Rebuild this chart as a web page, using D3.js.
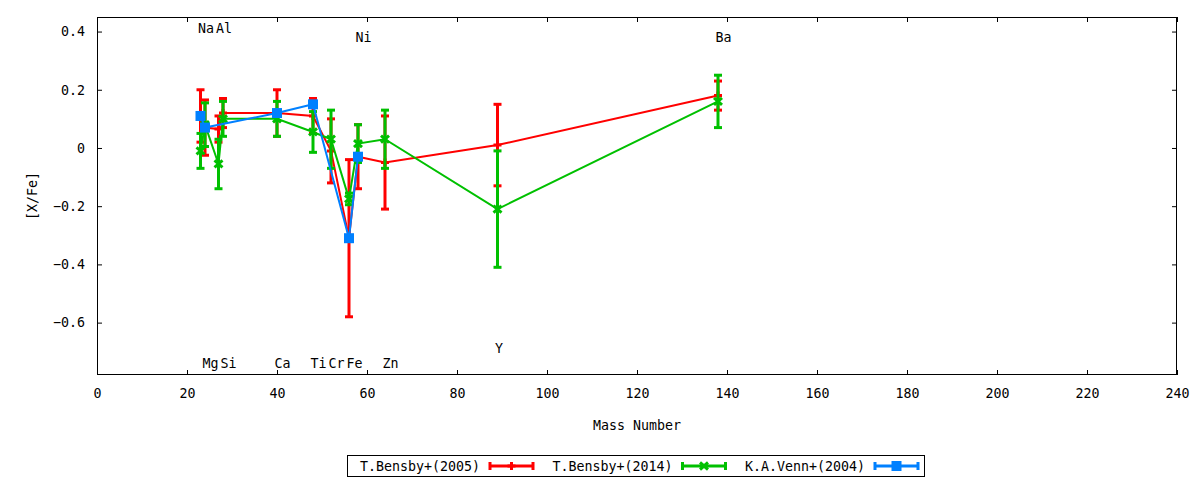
<!DOCTYPE html>
<html>
<head>
<meta charset="utf-8">
<script src="https://cdn.jsdelivr.net/npm/d3@7"></script>
<style>
  body { margin: 0; background: #fff; }
  text { font-family: "DejaVu Sans Mono", monospace; font-size: 13.3px; fill: #000; }
</style>
</head>
<body>
<div id="chart"></div>
<script>
// element mass numbers used as x
const elements = ["Na", "Mg", "Al", "Si", "Ca", "Ti", "Cr", "Fe", "Ni", "Zn", "Y", "Ba"];
const massNumbers = [23, 24, 27, 28, 40, 48, 52, 56, 58, 64, 89, 138];

// T.Bensby+(2005)
const bensby2005 = [0.11, 0.07, 0.065, 0.12, 0.12, 0.11, -0.01, -0.31, -0.03, -0.05, 0.01, 0.18];
const bensby2005Err = [0.09, 0.095, 0.045, 0.05, 0.08, 0.06, 0.11, 0.27, 0.11, 0.16, 0.14, 0.05];

// T.Bensby+(2014)
const bensby2014 = [-0.01, 0.08, -0.055, 0.10, 0.10, 0.055, 0.03, -0.175, 0.015, 0.03, -0.21, 0.16];
const bensby2014Err = [0.06, 0.075, 0.085, 0.06, 0.06, 0.07, 0.10, 0.02, 0.065, 0.10, 0.20, 0.09];

// K.A.Venn+(2004)
const vennElements = ["Na", "Mg", "Ca", "Ti", "Fe", "Ni"];
const venn2004 = [0.11, 0.07, 0.12, 0.15, -0.31, -0.03];
const venn2004Err = [0, 0, 0, 0, 0, 0];

// element labels placed in the plot
const labelText = ["Na", "Al", "Ni", "Ba", "Mg", "Si", "Ca", "Ti", "Cr", "Fe", "Zn", "Y"];
const labelY = [0.41, 0.41, 0.38, 0.38, -0.74, -0.74, -0.74, -0.74, -0.74, -0.74, -0.74, -0.69];

const xTicks = [0, 20, 40, 60, 80, 100, 120, 140, 160, 180, 200, 220, 240];
const yTicks = [-0.6, -0.4, -0.2, 0, 0.2, 0.4];

const legendNames = ["T.Bensby+(2005)", "T.Bensby+(2014)", "K.A.Venn+(2004)"];

const width = 1200, height = 480,
  margin = ({ top: 17, right: 23, bottom: 105, left: 97 });

const massOf = el => massNumbers[elements.indexOf(el)];

const series = [
  { name: legendNames[0], color: "#ff0000", marker: "plus",
    data: elements.map((e, i) => ({ m: massOf(e), v: bensby2005[i], err: bensby2005Err[i] })) },
  { name: legendNames[1], color: "#00c000", marker: "cross",
    data: elements.map((e, i) => ({ m: massOf(e), v: bensby2014[i], err: bensby2014Err[i] })) },
  { name: legendNames[2], color: "#0080ff", marker: "square",
    data: vennElements.map((e, i) => ({ m: massOf(e), v: venn2004[i], err: venn2004Err[i] })) }
];

let x = d3.scaleLinear()
  .domain([0, 240])
  .range([margin.left, width - margin.right]);

let y = d3.scaleLinear()
  .domain([-0.78, 0.45])
  .range([height - margin.bottom, margin.top]);

const svg = d3.select("#chart")
  .append("svg")
  .attr("width", width)
  .attr("height", height)
  .attr("viewBox", [0, 0, width, height]);

const fmt = d => d === 0 ? "0" : d3.format("")(+d.toFixed(1));

function styleAxis(g) {
  g.select(".domain").remove();
  g.selectAll(".tick line").attr("stroke", "#000");
  g.selectAll("text").attr("font-family", null).attr("font-size", null).attr("fill", "#000");
}

svg.append("g")
  .attr("transform", `translate(0,${height - margin.bottom})`)
  .call(d3.axisBottom(x).tickValues(xTicks).tickSize(-5).tickPadding(14).tickFormat(d => d))
  .call(styleAxis);

svg.append("g")
  .attr("transform", `translate(0,${margin.top})`)
  .call(d3.axisTop(x).tickValues(xTicks).tickSize(-5).tickFormat(""))
  .call(styleAxis);

svg.append("g")
  .attr("transform", `translate(${margin.left},0)`)
  .call(d3.axisLeft(y).tickValues(yTicks).tickSize(-5).tickPadding(12).tickFormat(fmt))
  .call(styleAxis);

svg.append("g")
  .attr("transform", `translate(${width - margin.right},0)`)
  .call(d3.axisRight(y).tickValues(yTicks).tickSize(-5).tickFormat(""))
  .call(styleAxis);

svg.append("rect")
  .attr("x", margin.left + 0.5)
  .attr("y", margin.top + 0.5)
  .attr("width", width - margin.left - margin.right - 1)
  .attr("height", height - margin.top - margin.bottom - 1)
  .attr("fill", "none")
  .attr("stroke", "#000");

// axis titles
svg.append("text")
  .attr("x", (margin.left + width - margin.right) / 2)
  .attr("y", 430)
  .attr("text-anchor", "middle")
  .text("Mass Number");

svg.append("text")
  .attr("transform", `translate(37,196) rotate(-90)`)
  .attr("text-anchor", "middle")
  .text("[X/Fe]");

// element labels
svg.append("g")
  .selectAll("text")
  .data(labelText)
  .join("text")
  .attr("x", (d, i) => x(massOf(d)) - 2.5)
  .attr("y", (d, i) => y(labelY[i]))
  .attr("dy", "0.35em")
  .text(d => d);

function drawMarker(g, type, color) {
  if (type === "plus") {
    g.append("path").attr("d", "M-4,0H4M0,-4V4")
      .attr("stroke", color).attr("stroke-width", 3).attr("fill", "none");
  } else if (type === "cross") {
    g.append("path").attr("d", "M-4,-3.5L4,3.5M-4,3.5L4,-3.5")
      .attr("stroke", color).attr("stroke-width", 3).attr("fill", "none");
  } else {
    g.append("rect").attr("x", -5).attr("y", -5).attr("width", 10).attr("height", 10)
      .attr("fill", color);
  }
}

const line = d3.line()
  .x(d => x(d.m))
  .y(d => y(d.v));

for (let s of series) {
  const g = svg.append("g");

  g.append("path")
    .datum(s.data)
    .attr("fill", "none")
    .attr("stroke", s.color)
    .attr("stroke-width", 2)
    .attr("d", line);

  const bars = g.selectAll(".bar")
    .data(s.data)
    .join("g")
    .attr("class", "bar");

  bars.append("line")
    .attr("x1", d => x(d.m)).attr("x2", d => x(d.m))
    .attr("y1", d => y(d.v + d.err)).attr("y2", d => y(d.v - d.err))
    .attr("stroke", s.color).attr("stroke-width", 3);

  for (let sign of [1, -1]) {
    bars.append("line")
      .attr("x1", d => x(d.m) - 4).attr("x2", d => x(d.m) + 4)
      .attr("y1", d => y(d.v + sign * d.err)).attr("y2", d => y(d.v + sign * d.err))
      .attr("stroke", s.color).attr("stroke-width", 3);
  }

  bars.each(function (d) {
    const mg = d3.select(this).append("g")
      .attr("transform", `translate(${x(d.m)},${y(d.v)})`);
    drawMarker(mg, s.marker, s.color);
  });
}

// legend
const legend = svg.append("g");
const legLeft = 347, legTop = 455, legW = 577, legH = 21, entryW = 192.5;

legend.append("rect")
  .attr("x", legLeft + 0.5).attr("y", legTop + 0.5)
  .attr("width", legW).attr("height", legH)
  .attr("fill", "#fff").attr("stroke", "#000");

series.forEach((s, i) => {
  const textEnd = legLeft + 133 + i * entryW;
  const cy = legTop + legH / 2 + 0.5;
  legend.append("text")
    .attr("x", textEnd)
    .attr("y", cy)
    .attr("dy", "0.35em")
    .attr("text-anchor", "end")
    .text(s.name);

  const x0 = textEnd + 10, x1 = textEnd + 53;
  legend.append("path")
    .attr("d", `M${x0},${cy}H${x1}M${x0},${cy - 4}V${cy + 4}M${x1},${cy - 4}V${cy + 4}`)
    .attr("stroke", s.color).attr("stroke-width", 3).attr("fill", "none");
  const mg = legend.append("g").attr("transform", `translate(${(x0 + x1) / 2},${cy})`);
  drawMarker(mg, s.marker, s.color);
});
</script>
</body>
</html>
